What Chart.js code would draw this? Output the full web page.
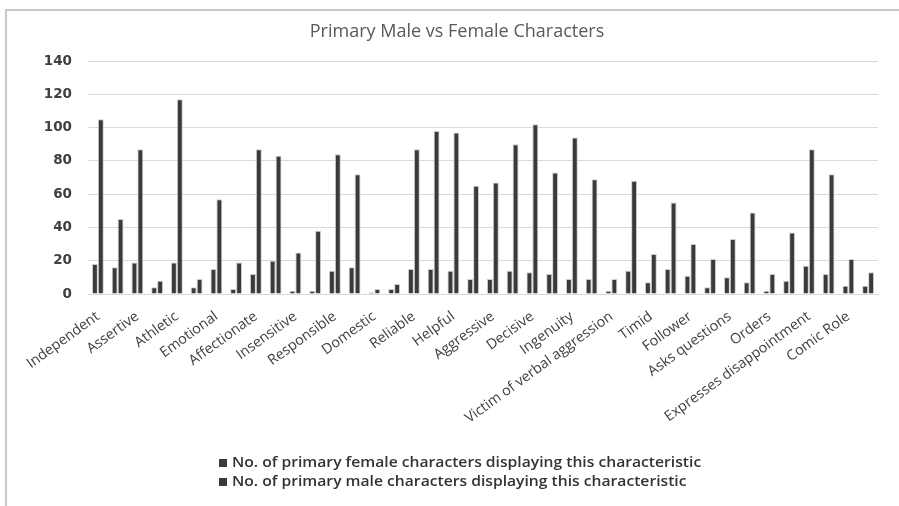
<!DOCTYPE html>
<html>
<head>
<meta charset="utf-8">
<title>Primary Male vs Female Characters</title>
<script src="https://cdn.jsdelivr.net/npm/chart.js@4.4.1/dist/chart.umd.min.js"></script>
<style>
  html, body { margin: 0; padding: 0; background: #ffffff; overflow: hidden; }
  #wrap { position: relative; width: 899px; height: 506px; overflow: hidden; }
  #frame { position: absolute; left: 5px; top: 9px; width: 1000px; height: 600px;
           border-left: 2px solid #c9c9c9; border-top: 2px solid #c9c9c9; }
  #chart { position: absolute; left: 0; top: 0; }
</style>
</head>
<body>
<div id="wrap">
  <div id="frame"></div>
  <canvas id="chart" width="915" height="506"></canvas>
</div>
<script>
// Characteristics, in plotting order (every other one is labelled on the axis)
const categories = [
  'Independent', 'Dependent',
  'Assertive', 'Submissive',
  'Athletic', 'Physically weak',
  'Emotional', 'Unemotional',
  'Affectionate', 'Nurturing',
  'Insensitive', 'Sensitive',
  'Responsible', 'Irresponsible',
  'Domestic', 'Works outside home',
  'Reliable', 'Unreliable',
  'Helpful', 'Troublesome',
  'Aggressive', 'Gentle',
  'Decisive', 'Indecisive',
  'Ingenuity', 'Intelligent',
  'Victim of verbal aggression', 'Victim of physical aggression',
  'Timid', 'Brave',
  'Follower', 'Leader',
  'Asks questions', 'Gives advice',
  'Orders', 'Obeys',
  'Expresses disappointment', 'Expresses anger',
  'Comic Role', 'Romantic Role'
];

const femaleCounts = [
  18, 16, 19, 4, 19, 4, 15, 3, 12, 20,
  2, 2, 14, 16, 1, 3, 15, 15, 14, 9,
  9, 14, 13, 12, 9, 9, 2, 14, 7, 15,
  11, 4, 10, 7, 2, 8, 17, 12, 5, 5
];

const maleCounts = [
  105, 45, 87, 8, 117, 9, 57, 19, 87, 83,
  25, 38, 84, 72, 3, 6, 87, 98, 97, 65,
  67, 90, 102, 73, 94, 69, 9, 68, 24, 55,
  30, 21, 33, 49, 12, 37, 87, 72, 21, 13
];

const seriesLabels = [
  'No. of primary female characters displaying this characteristic',
  'No. of primary male characters displaying this characteristic'
];

const yTicks = { min: 0, max: 140, step: 20 };

const BAR = '#3a3a3a';
const GRID = '#d9d9d9';
const TEXT = '#404040';

// Title and two-row legend drawn onto the canvas (legend text slightly widened)
const titleLegend = {
  id: 'titleLegend',
  afterDraw(chart) {
    const ctx = chart.ctx;
    ctx.save();
    ctx.fillStyle = '#595959';
    ctx.font = '18px "Open Sans"';
    ctx.textAlign = 'center';
    ctx.textBaseline = 'middle';
    ctx.fillText('Primary Male vs Female Characters', 457, 32);
    ctx.restore();

    const rows = [463, 482];
    chart.data.datasets.forEach((ds, i) => {
      const y = rows[i];
      ctx.save();
      ctx.fillStyle = ds.backgroundColor;
      ctx.fillRect(219, y - 4, 8, 8);
      ctx.translate(232, y);
      ctx.scale(1.08, 1);
      ctx.font = '600 14.5px "Open Sans"';
      ctx.textAlign = 'left';
      ctx.textBaseline = 'middle';
      ctx.fillStyle = '#333333';
      ctx.fillText(ds.label, 0, 0);
      ctx.restore();
    });
  }
};

new Chart(document.getElementById('chart'), {
  type: 'bar',
  data: {
    labels: categories,
    datasets: [
      { label: seriesLabels[0], data: femaleCounts, backgroundColor: BAR,
        borderColor: '#cccccc', borderWidth: 1 },
      { label: seriesLabels[1], data: maleCounts, backgroundColor: BAR,
        borderColor: '#cccccc', borderWidth: 1 }
    ]
  },
  options: {
    responsive: false,
    animation: false,
    layout: { padding: { top: 61, left: 0, right: 37, bottom: 62 } },
    datasets: { bar: { categoryPercentage: 0.6, barPercentage: 1.0 } },
    plugins: {
      legend: { display: false },
      title: { display: false },
      tooltip: { enabled: false }
    },
    scales: {
      x: {
        afterFit(scale) { scale.height = 150; },
        grid: { display: false },
        border: { display: true, color: GRID, width: 1 },
        ticks: {
          autoSkip: false,
          minRotation: 36,
          maxRotation: 36,
          padding: 6,
          color: TEXT,
          font: { family: '"Open Sans"', size: 14.3 },
          callback(value, index) {
            return index % 2 === 0 ? this.getLabelForValue(value) : '';
          }
        }
      },
      y: {
        min: yTicks.min,
        max: yTicks.max,
        afterFit(scale) { scale.width = 88; },
        grid: { color: GRID, lineWidth: 1, drawTicks: false },
        border: { display: false },
        ticks: {
          stepSize: yTicks.step,
          padding: 16,
          color: TEXT,
          font: { family: '"DejaVu Sans"', size: 13.5, weight: 'bold' }
        }
      }
    }
  },
  plugins: [titleLegend]
});
</script>
</body>
</html>
